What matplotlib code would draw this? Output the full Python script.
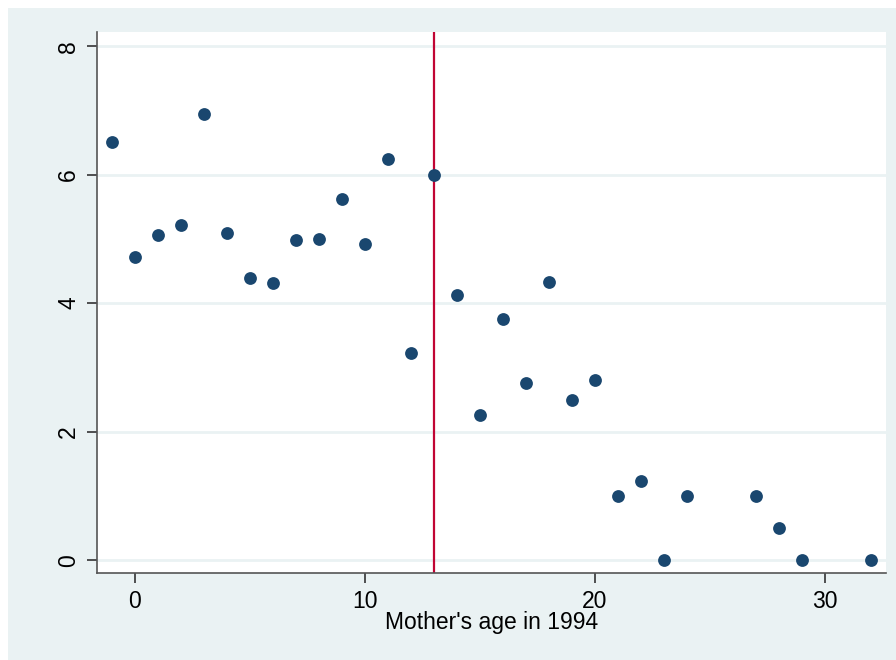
import matplotlib.pyplot as plt
from matplotlib.patches import Rectangle

# mother's age in 1994 vs outcome
age = [-1, 0, 1, 2, 3, 4, 5, 6, 7, 8, 9, 10, 11, 12, 13, 14, 15, 16, 17, 18,
       19, 20, 21, 22, 23, 24, 27, 28, 29, 32]
value = [6.51, 4.72, 5.06, 5.21, 6.95, 5.09, 4.39, 4.31, 4.98, 5.0, 5.62, 4.92,
         6.24, 3.22, 6.0, 4.12, 2.26, 3.75, 2.76, 4.33, 2.5, 2.8, 1.0, 1.23, 0.0,
         1.0, 1.0, 0.5, 0.0, 0.0]
cutoff = 13

plt.rcParams['font.family'] = ['Liberation Sans', 'DejaVu Sans']

bg = '#eaf2f3'
fig = plt.figure(figsize=(8.96, 6.6), dpi=100)
fig.patches.append(Rectangle((8 / 896, 0), 1, 1 - 8 / 660, transform=fig.transFigure,
                             facecolor=bg, edgecolor='none', zorder=-10))

ax = fig.add_axes([97 / 896, 1 - 573 / 660, (886 - 97) / 896, (573 - 32) / 660])
ax.set_facecolor('white')

ax.scatter(age, value, s=85, color='#1a476f', zorder=3, linewidths=0)
ax.axvline(cutoff, color='#c10534', lw=1.6, zorder=2)

ax.set_xlim(-1.65, 32.65)
ax.set_ylim(-0.2, 8.22)
ax.set_xticks([0, 10, 20, 30])
ax.set_yticks([0, 2, 4, 6, 8])
ax.yaxis.grid(True, color=bg, lw=2)
ax.set_axisbelow(True)

for s in ['top', 'right']:
    ax.spines[s].set_visible(False)
for s in ['left', 'bottom']:
    ax.spines[s].set_color('#555555')
    ax.spines[s].set_linewidth(1.2)

ax.tick_params(axis='both', length=7, width=1.2, color='#333333', labelsize=16.5)
ax.tick_params(axis='x', pad=5)
ax.tick_params(axis='y', pad=5)
for lab in ax.get_yticklabels():
    lab.set_rotation(90)
    lab.set_va('center')

ax.set_xlabel("Mother's age in 1994", fontsize=16.5, labelpad=-1)

fig.savefig('out.png', dpi=100, facecolor='white')
